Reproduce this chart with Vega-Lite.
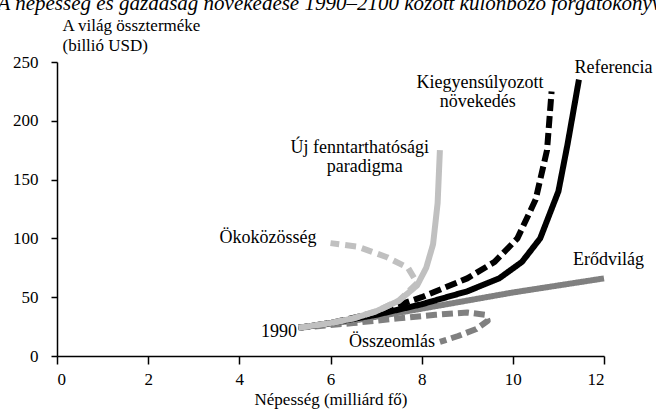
{
  "$schema": "https://vega.github.io/schema/vega-lite/v6.json",
  "width": 547,
  "height": 294,
  "autosize": {"type": "none"},
  "padding": {"left": 57, "top": 62, "right": 52, "bottom": 58},
  "background": "white",
  "title": {
    "text": "A népesség és gazdaság növekedése 1990–2100 között különböző forgatókönyvek szerint",
    "anchor": "start",
    "font": "Liberation Serif",
    "fontSize": 21,
    "fontStyle": "italic",
    "fontWeight": "normal",
    "color": "black",
    "dx": -15,
    "dy": -2,
    "offset": 0
  },
  "config": {
    "view": {"stroke": null},
    "font": "Liberation Serif",
    "axis": {
      "grid": false,
      "domainColor": "black",
      "domainWidth": 1.5,
      "tickColor": "black",
      "tickWidth": 1.5,
      "labelFont": "Liberation Serif",
      "labelFontSize": 17,
      "labelColor": "black",
      "titleFont": "Liberation Serif",
      "titleFontSize": 17,
      "titleFontWeight": "normal",
      "titleColor": "black"
    }
  },
  "datasets": {
    "lines": [
      {"s": "Összeomlás", "i": 0, "x": 5.3, "y": 24},
      {"s": "Összeomlás", "i": 1, "x": 6.5, "y": 28},
      {"s": "Összeomlás", "i": 2, "x": 7.5, "y": 32},
      {"s": "Összeomlás", "i": 3, "x": 8.3, "y": 35},
      {"s": "Összeomlás", "i": 4, "x": 9.0, "y": 37},
      {"s": "Összeomlás", "i": 5, "x": 9.4, "y": 35},
      {"s": "Összeomlás", "i": 6, "x": 9.45, "y": 30},
      {"s": "Összeomlás", "i": 7, "x": 9.2, "y": 23},
      {"s": "Összeomlás", "i": 8, "x": 8.8, "y": 17},
      {"s": "Összeomlás", "i": 9, "x": 8.4, "y": 12},

      {"s": "Erődvilág", "i": 0, "x": 5.3, "y": 24},
      {"s": "Erődvilág", "i": 1, "x": 6.5, "y": 30},
      {"s": "Erődvilág", "i": 2, "x": 8.4, "y": 43},
      {"s": "Erődvilág", "i": 3, "x": 10.0, "y": 54},
      {"s": "Erődvilág", "i": 4, "x": 12.0, "y": 66},

      {"s": "Kiegyensúlyozott növekedés", "i": 0, "x": 5.3, "y": 24},
      {"s": "Kiegyensúlyozott növekedés", "i": 1, "x": 6.0, "y": 28},
      {"s": "Kiegyensúlyozott növekedés", "i": 2, "x": 7.0, "y": 37},
      {"s": "Kiegyensúlyozott növekedés", "i": 3, "x": 8.0, "y": 50},
      {"s": "Kiegyensúlyozott növekedés", "i": 4, "x": 9.0, "y": 66},
      {"s": "Kiegyensúlyozott növekedés", "i": 5, "x": 9.6, "y": 80},
      {"s": "Kiegyensúlyozott növekedés", "i": 6, "x": 10.1, "y": 100},
      {"s": "Kiegyensúlyozott növekedés", "i": 7, "x": 10.5, "y": 133},
      {"s": "Kiegyensúlyozott növekedés", "i": 8, "x": 10.75, "y": 175},
      {"s": "Kiegyensúlyozott növekedés", "i": 9, "x": 10.85, "y": 225},

      {"s": "Referencia", "i": 0, "x": 5.3, "y": 24},
      {"s": "Referencia", "i": 1, "x": 6.0, "y": 28},
      {"s": "Referencia", "i": 2, "x": 7.0, "y": 35},
      {"s": "Referencia", "i": 3, "x": 8.0, "y": 44},
      {"s": "Referencia", "i": 4, "x": 9.0, "y": 55},
      {"s": "Referencia", "i": 5, "x": 9.7, "y": 66},
      {"s": "Referencia", "i": 6, "x": 10.2, "y": 80},
      {"s": "Referencia", "i": 7, "x": 10.6, "y": 100},
      {"s": "Referencia", "i": 8, "x": 11.0, "y": 140},
      {"s": "Referencia", "i": 9, "x": 11.2, "y": 180},
      {"s": "Referencia", "i": 10, "x": 11.45, "y": 235},

      {"s": "Ökoközösség", "i": 0, "x": 5.3, "y": 24},
      {"s": "Ökoközösség", "i": 1, "x": 6.0, "y": 28},
      {"s": "Ökoközösség", "i": 2, "x": 6.5, "y": 32},
      {"s": "Ökoközösség", "i": 3, "x": 7.0, "y": 38},
      {"s": "Ökoközösség", "i": 4, "x": 7.5, "y": 47},
      {"s": "Ökoközösség", "i": 5, "x": 7.9, "y": 62},
      {"s": "Ökoközösség", "i": 6, "x": 7.7, "y": 75},
      {"s": "Ökoközösség", "i": 7, "x": 7.24, "y": 84},
      {"s": "Ökoközösség", "i": 8, "x": 6.6, "y": 93},
      {"s": "Ökoközösség", "i": 9, "x": 6.0, "y": 96},

      {"s": "Új fenntarthatósági paradigma", "i": 0, "x": 5.3, "y": 24},
      {"s": "Új fenntarthatósági paradigma", "i": 1, "x": 6.0, "y": 28},
      {"s": "Új fenntarthatósági paradigma", "i": 2, "x": 6.5, "y": 32},
      {"s": "Új fenntarthatósági paradigma", "i": 3, "x": 7.0, "y": 38},
      {"s": "Új fenntarthatósági paradigma", "i": 4, "x": 7.5, "y": 47},
      {"s": "Új fenntarthatósági paradigma", "i": 5, "x": 7.9, "y": 60},
      {"s": "Új fenntarthatósági paradigma", "i": 6, "x": 8.1, "y": 75},
      {"s": "Új fenntarthatósági paradigma", "i": 7, "x": 8.25, "y": 95},
      {"s": "Új fenntarthatósági paradigma", "i": 8, "x": 8.35, "y": 130},
      {"s": "Új fenntarthatósági paradigma", "i": 9, "x": 8.4, "y": 175}
    ],
    "labels": [
      {"t": "Referencia", "x": 12.21, "y": 245},
      {"t": "Kiegyensúlyozott", "x": 9.28, "y": 232},
      {"t": "növekedés", "x": 9.23, "y": 216},
      {"t": "Új fenntarthatósági", "x": 6.64, "y": 177},
      {"t": "paradigma", "x": 6.75, "y": 161},
      {"t": "Ökoközösség", "x": 4.63, "y": 100},
      {"t": "Erődvilág", "x": 12.1, "y": 82},
      {"t": "1990", "x": 4.87, "y": 20.4},
      {"t": "Összeomlás", "x": 7.35, "y": 12}
    ]
  },
  "layer": [
    {
      "data": {"name": "lines"},
      "mark": {"type": "line", "strokeCap": "butt", "strokeJoin": "round", "clip": false},
      "encoding": {
        "x": {
          "field": "x", "type": "quantitative",
          "scale": {"domain": [0, 12], "nice": false},
          "axis": {"values": [0, 2, 4, 6, 8, 10, 12], "tickSize": 8, "labelPadding": 7, "title": "Népesség (milliárd fő)", "titlePadding": 4}
        },
        "y": {
          "field": "y", "type": "quantitative",
          "scale": {"domain": [0, 250], "nice": false},
          "axis": {
            "values": [0, 50, 100, 150, 200, 250], "tickSize": 6, "labelPadding": 13,
            "title": ["A világ összterméke", "(billió USD)"],
            "titleAngle": 0, "titleAlign": "left", "titleBaseline": "alphabetic",
            "titleX": 5, "titleY": -32, "titleLineHeight": 20
          }
        },
        "order": {"field": "i", "type": "quantitative"},
        "detail": {"field": "s"},
        "color": {
          "field": "s", "type": "nominal", "legend": null,
          "scale": {
            "domain": ["Összeomlás", "Erődvilág", "Kiegyensúlyozott növekedés", "Referencia", "Ökoközösség", "Új fenntarthatósági paradigma"],
            "range": ["#808080", "#808080", "#000000", "#000000", "#c0c0c0", "#c0c0c0"]
          }
        },
        "strokeDash": {
          "field": "s", "type": "nominal", "legend": null,
          "scale": {
            "domain": ["Összeomlás", "Erődvilág", "Kiegyensúlyozott növekedés", "Referencia", "Ökoközösség", "Új fenntarthatósági paradigma"],
            "range": [[11, 5], [1, 0], [12, 5], [1, 0], [11, 6], [1, 0]]
          }
        },
        "strokeWidth": {
          "field": "s", "type": "nominal", "legend": null,
          "scale": {
            "domain": ["Összeomlás", "Erődvilág", "Kiegyensúlyozott növekedés", "Referencia", "Ökoközösség", "Új fenntarthatósági paradigma"],
            "range": [6, 6, 7, 7, 6, 6]
          }
        }
      }
    },
    {
      "data": {"name": "labels"},
      "mark": {"type": "text", "font": "Liberation Serif", "fontSize": 18, "color": "black", "baseline": "middle", "align": "center", "clip": false},
      "encoding": {
        "x": {"field": "x", "type": "quantitative"},
        "y": {"field": "y", "type": "quantitative"},
        "text": {"field": "t"}
      }
    }
  ]
}
